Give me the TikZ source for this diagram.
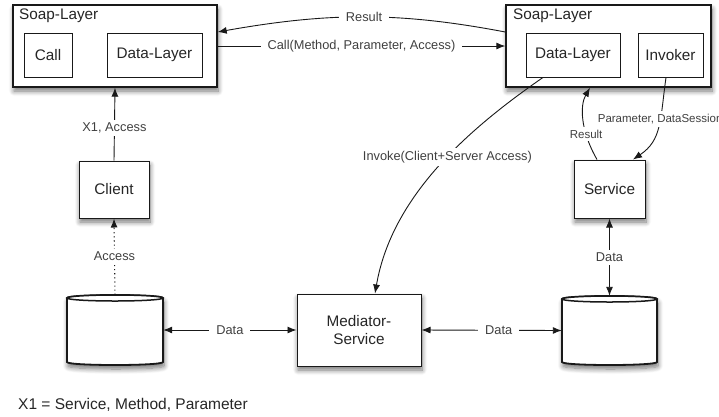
\documentclass[tikz,border=0pt]{standalone}
\usepackage{fontspec}
\setmainfont{Liberation Sans}
\usetikzlibrary{arrows.meta,shadows.blur}
\begin{document}
\begin{tikzpicture}[x=1pt,y=-1pt,
  shad/.style={blur shadow={shadow xshift=1pt, shadow yshift=-4pt, shadow blur radius=5pt, shadow blur steps=8, shadow opacity=55}},
  box/.style={draw=black!90, fill=white, line width=1pt, inner sep=0pt, font=\fontsize{15.3}{18}\selectfont, text=black!85, shad},
  outer/.style={box, line width=1.4pt},
  inner/.style={draw=black!90, fill=white, line width=0.9pt, inner sep=0pt, font=\fontsize{15.3}{18}\selectfont, text=black!85},
  title/.style={anchor=base west, inner sep=0pt, font=\fontsize{15.3}{18}\selectfont, text=black!85},
  lab/.style={fill=white, inner xsep=7pt, inner ysep=3pt, font=\fontsize{12.8}{15}\selectfont, text=black!75},
  slab/.style={lab, inner xsep=2pt, font=\fontsize{11.5}{14}\selectfont},
  conn/.style={draw=black!90, line width=0.9pt},
  tip/.tip={Latex[length=9pt,width=7pt]},
  arr/.style={conn, -tip},
  darr/.style={conn, tip-tip},
  dots/.style={conn, line width=1.1pt, dash pattern=on 1.1pt off 3pt},
  cylnode/.style={inner sep=0pt, draw=none},
  cylbody/.style={draw=black!90, fill=white, line width=1.8pt, shad},
  cyltop/.style={draw=black!90, fill=white, line width=1.5pt},
]
\useasboundingbox (0,0) rectangle (719,416);

% left soap layer
\node[outer, minimum width=204pt, minimum height=82pt] (lsoap) at (115,46) {};
\node[title] (lsoapt) at (19,19) {Soap-Layer};
\node[inner, minimum width=48pt, minimum height=44pt] (call) at (48,55) {Call};
\node[inner, minimum width=95pt, minimum height=44pt] (ldl) at (154.5,55) {Data-Layer};

% right soap layer
\node[outer, minimum width=205pt, minimum height=82pt] (rsoap) at (608.5,46) {};
\node[title] (rsoapt) at (513,19) {Soap-Layer};
\node[inner, minimum width=94pt, minimum height=44pt] (rdl) at (573,55) {Data-Layer};
\node[inner, minimum width=65pt, minimum height=44pt] (inv) at (670.5,55) {Invoker};

% boxes
\node[box, minimum width=70pt, minimum height=57pt] (client) at (114,189.5) {Client};
\node[box, minimum width=71pt, minimum height=58pt] (svc) at (609.5,189) {Service};
\node[box, minimum width=124pt, minimum height=72pt, align=center] (med) at (359,330) {Mediator-\\Service};

% cylinders
\path[cylbody] (67,298) -- (67,362) .. controls (67,366) and (163,366) .. (163,362) -- (163,298) .. controls (163,294) and (67,294) .. (67,298) -- cycle;
\draw[cyltop] (115,298) ellipse [x radius=48, y radius=3];
\node[cylnode, minimum width=96pt, minimum height=70pt] (db1) at (115,330) {};

\path[cylbody] (562,299) -- (562,362) .. controls (562,366) and (657,366) .. (657,362) -- (657,299) .. controls (657,295) and (562,295) .. (562,299) -- cycle;
\draw[cyltop] (609.5,299) ellipse [x radius=47.5, y radius=3];
\node[cylnode, minimum width=95pt, minimum height=69pt] (db2) at (609.5,330.5) {};

% connectors
\draw[arr] ([yshift=14pt]rsoap.west) .. controls (400,12) and (330,12) .. ([yshift=14pt]lsoap.east) node[lab, pos=0.5] {Result};
\draw[arr] (lsoap.east) -- node[lab] {Call(Method, Parameter, Access)} (rsoap.west);
\draw[arr] (client.north) -- node[lab, pos=0.45] {X1, Access} (lsoap.south);
\draw[dots, -tip] (db1.north) -- node[lab] {Access} (client.south);
\draw[darr] (db1.east) -- node[lab] {Data} (med.west);
\draw[darr] (med.east) -- node[lab, pos=0.55] {Data} (db2.west);
\draw[darr] (svc.south) -- node[lab] {Data} (db2.north);
\draw[arr] ([xshift=-30pt]rdl.south) .. controls (470,128) and (392,195) .. ([xshift=16pt]med.north) node[lab, inner xsep=2pt, pos=0.45] {Invoke(Client+Server Access)};
\draw[arr] ([xshift=-12.5pt]svc.north) .. controls (580,130) and (580,105) .. ([xshift=-18.5pt]rsoap.south) node[slab, pos=0.3] {Result};
\draw[arr] ([xshift=-4.5pt]inv.south) .. controls (660,120) and (662,140) .. ([xshift=23.5pt]svc.north) node[slab, pos=0.4] {Parameter, DataSession};

% footnote
\node[anchor=base west, inner sep=0pt, font=\fontsize{15.5}{18}\selectfont, text=black!85] (note) at (18,409) {X1 = Service, Method, Parameter};
\end{tikzpicture}
\end{document}
